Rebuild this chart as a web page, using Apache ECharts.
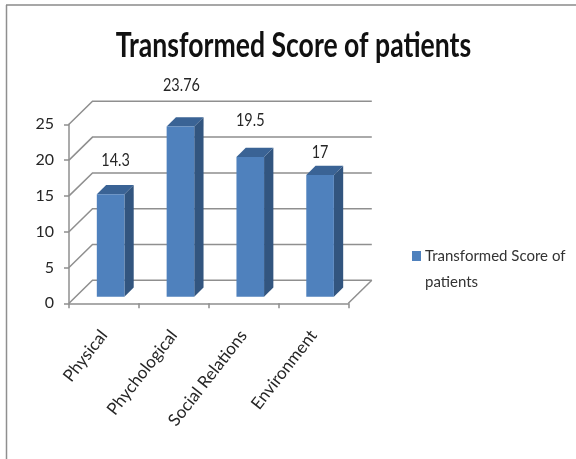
<!DOCTYPE html>
<html><head><meta charset="utf-8">
<style>html,body{margin:0;padding:0;background:#fff}#c{width:576px;height:459px}</style>
<script src="https://cdn.jsdelivr.net/npm/echarts@6/dist/echarts.min.js"></script>
</head><body><div id="c"></div>
<script>
const categories = ['Physical','Phychological','Social Relations','Environment'];
const scores = [14.3,23.76,19.5,17];
const yTicks = [0,5,10,15,20,25];
const seriesName = 'Transformed Score of patients';
const chartTitle = 'Transformed Score of patients';

const FONT = 'Lato,sans-serif';
const wall = {dx:23.5, dy:-23};
const bar = {ox:6.7, oy:-6.6, dx:9.3, dy:-9.3, w:27.6};
const labelLift = [34,41,37,22];
const labelShift = [5,1,0,0];
const gridColor = '#8f8f8f';

function renderGrid(params, api){
  const v = api.value(0);
  const r = params.coordSys;
  const y = api.coord([0,v])[1];
  const pts = [[r.x,y],[r.x+wall.dx,y+wall.dy],[r.x+r.width+wall.dx,y+wall.dy]];
  const children = [{type:'polyline',shape:{points:pts},style:{stroke:gridColor,lineWidth:1.5,fill:null}}];
  if(v===0) children.push({type:'line',shape:{x1:r.x+r.width,y1:y,x2:r.x+r.width+wall.dx,y2:y+wall.dy},style:{stroke:gridColor,lineWidth:1.5}});
  return {type:'group',children};
}
function poly(points,fill){return {type:'polygon',shape:{points},style:{fill,stroke:null}};}
function renderBar(params, api){
  const i = api.value(0), v = api.value(1);
  const c0 = api.coord([i,0]), c1 = api.coord([i,v]);
  const l = c0[0]+bar.ox-bar.w/2, r = l+bar.w;
  const b = c0[1]+bar.oy, t = c1[1]+bar.oy;
  const d = bar;
  return {type:'group',children:[
    poly([[r,b],[r+d.dx,b+d.dy],[r+d.dx,t+d.dy],[r,t]],'#32557f'),
    poly([[l,t],[r,t],[r+d.dx,t+d.dy],[l+d.dx,t+d.dy]],'#3a6395'),
    poly([[l,b],[r,b],[r,t],[l,t]],'#4f81bd'),
    {type:'text',x:(l+r)/2+labelShift[i],y:t-labelLift[i],scaleX:0.85,
      style:{text:String(v),x:0,y:0,align:'center',verticalAlign:'middle',font:'17px '+FONT,fill:'#262626'}}
  ]};
}
const chart = echarts.init(document.getElementById('c'),null,{renderer:'canvas'});
chart.setOption({
  animation:false,
  backgroundColor:'#fff',
  grid:{left:69,top:124.3,width:279.3,height:179,containLabel:false},
  legend:{data:[seriesName],left:407,top:238,orient:'vertical',itemWidth:9,itemHeight:36,
    icon:'path://M0,0H9V10H0ZM0,36L0,36Z',
    itemGap:0,formatter:()=>'Transformed Score of\npatients',
    textStyle:{fontFamily:FONT,fontSize:15,color:'#333',lineHeight:26,padding:[0,0,0,-1]}},
  xAxis:{type:'category',data:categories,boundaryGap:true,
    axisLine:{lineStyle:{color:gridColor,width:1.5}},
    axisTick:{show:true,alignWithLabel:false,length:5,lineStyle:{color:gridColor,width:1.5}},
    axisLabel:{rotate:52,interval:0,margin:29,fontFamily:FONT,fontSize:17,color:'#262626'},splitLine:{show:false}},
  yAxis:{type:'value',min:0,max:25,interval:5,
    axisLine:{show:true,lineStyle:{color:gridColor,width:1.5}},
    axisTick:{show:true,length:5,lineStyle:{color:gridColor,width:1.5}},
    axisLabel:{margin:15,fontFamily:FONT,fontSize:16,color:'#262626'},splitLine:{show:false}},
  graphic:[
    {type:'line',silent:true,shape:{x1:6.5,y1:5,x2:6.5,y2:459},style:{stroke:'#8f8f8f',lineWidth:1.5}},
    {type:'line',silent:true,shape:{x1:6,y1:5,x2:576,y2:5},style:{stroke:'#8a8a8a',lineWidth:1.5}},
    {type:'text',silent:true,x:293.5,y:46,scaleX:0.76,
      style:{text:chartTitle,x:0,y:0,align:'center',verticalAlign:'middle',font:'bold 35px '+FONT,fill:'#111'}}
  ],
  series:[
    {type:'custom',name:'grid',silent:true,renderItem:renderGrid,data:yTicks.map(v=>[v]),encode:{y:0},z:1},
    {type:'custom',name:seriesName,renderItem:renderBar,data:scores.map((v,i)=>[i,v]),encode:{x:0,y:1},
      itemStyle:{color:'#4f81bd'},z:2}
  ]
});
</script></body></html>
